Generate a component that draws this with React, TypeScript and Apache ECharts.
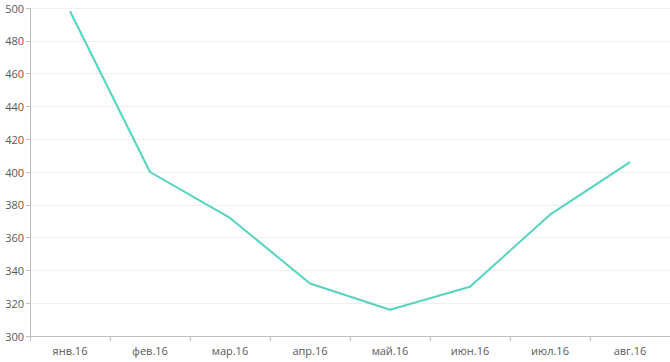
import React, { useEffect, useRef } from "react";
import * as echarts from "echarts";

const categories = ["янв.16", "фев.16", "мар.16", "апр.16", "май.16", "июн.16", "июл.16", "авг.16"];
const values = [498, 400, 372, 332, 316, 330, 374, 406];

export default function App() {
  const ref = useRef<HTMLDivElement>(null);
  useEffect(() => {
    if (!ref.current) return;
    const chart = echarts.init(ref.current, null, { renderer: "svg" });
    chart.setOption({
      animation: false,
      grid: { left: 30, right: 0, top: 8, bottom: 26 },
      xAxis: {
        type: "category",
        data: categories,
        boundaryGap: true,
        axisLine: { lineStyle: { color: "#bfbfbf", width: 1 } },
        axisTick: { show: true, alignWithLabel: false, length: 5, lineStyle: { color: "#bfbfbf" } },
        axisLabel: { color: "#595959", fontSize: 11, fontFamily: "Open Sans", margin: 9 },
      },
      yAxis: {
        type: "value",
        min: 300,
        max: 500,
        interval: 20,
        axisLine: { show: true, lineStyle: { color: "#bfbfbf", width: 1 } },
        axisTick: { show: true, length: 4, lineStyle: { color: "#bfbfbf" } },
        axisLabel: { color: "#595959", fontSize: 11, fontFamily: "Open Sans", margin: 6 },
        splitLine: { show: true, lineStyle: { color: "#efefef", width: 1 } },
      },
      series: [
        {
          type: "line",
          data: values,
          symbol: "none",
          lineStyle: { color: "#55d3bf", width: 2 },
        },
      ],
    });
    return () => chart.dispose();
  }, []);
  return <div ref={ref} style={{ width: 670, height: 362, position: "absolute", left: 0, top: 0 }} />;
}
